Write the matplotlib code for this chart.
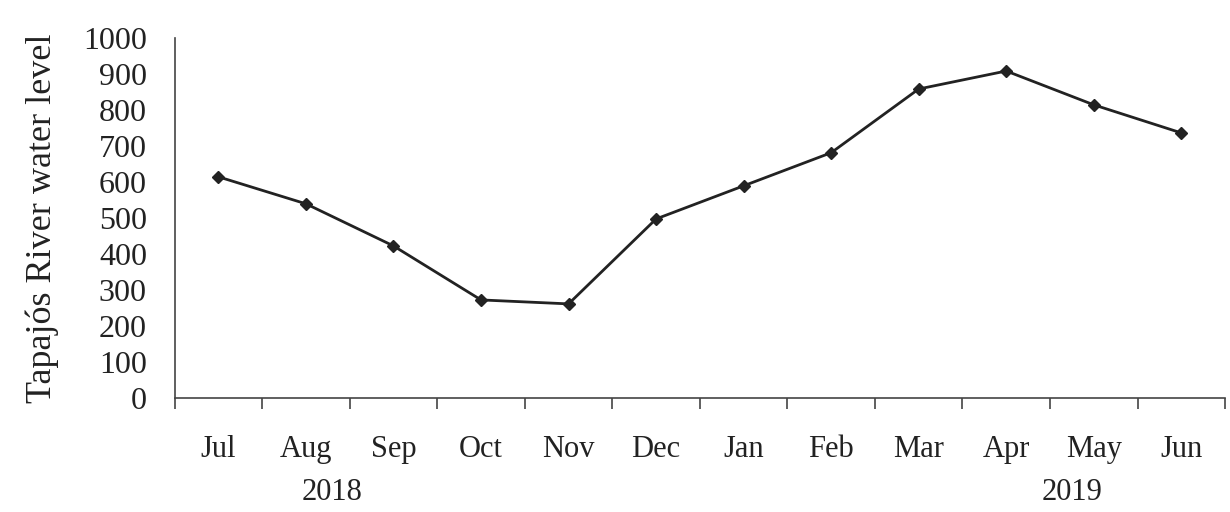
import numpy as np
import matplotlib.pyplot as plt

# Tapajós River water level, Jul 2018 - Jun 2019
months = ['Jul', 'Aug', 'Sep', 'Oct', 'Nov', 'Dec', 'Jan', 'Feb', 'Mar', 'Apr', 'May', 'Jun']
level = [614, 539, 422, 272, 261, 497, 589, 681, 858, 908, 814, 736]
years = ['2018', '2019']

plt.rcParams['font.family'] = ['Liberation Serif', 'DejaVu Serif']
ink = '#222222'

fig = plt.figure(figsize=(12.3, 5.12), dpi=100)
ax = fig.add_axes([0.142, 0.223, 0.854, 0.703])

x = np.arange(len(months))
ax.plot(x, level, color=ink, lw=2, marker='D', ms=6, mfc=ink, mec=ink)

ax.set_xlim(-0.5, len(months) - 0.5)
ax.set_ylim(0, 1000)
ax.set_yticks(np.arange(0, 1001, 100))
ax.set_xticks(x)
ax.set_xticklabels(months)
ax.set_xticks(np.arange(-0.5, len(months), 1), minor=True)
ax.tick_params(axis='x', which='major', length=0, pad=27, labelsize=22, labelcolor=ink)
ax.tick_params(axis='x', which='minor', length=8, width=1.2, color='#444444', direction='out')
ax.tick_params(axis='y', length=0, pad=20, labelsize=23, labelcolor=ink)

for s in ['top', 'right']:
    ax.spines[s].set_visible(False)
for s in ['left', 'bottom']:
    ax.spines[s].set_color('#444444')
    ax.spines[s].set_linewidth(1.2)

ax.set_ylabel('Tapajós River water level', fontsize=26, color=ink, labelpad=17)

# year labels under the month labels
ax.text(1.3, -0.262, years[0], transform=ax.get_xaxis_transform(),
        ha='center', va='center', fontsize=22, color=ink)
ax.text(9.75, -0.262, years[1], transform=ax.get_xaxis_transform(),
        ha='center', va='center', fontsize=22, color=ink)

fig.savefig('out.png', dpi=100)
